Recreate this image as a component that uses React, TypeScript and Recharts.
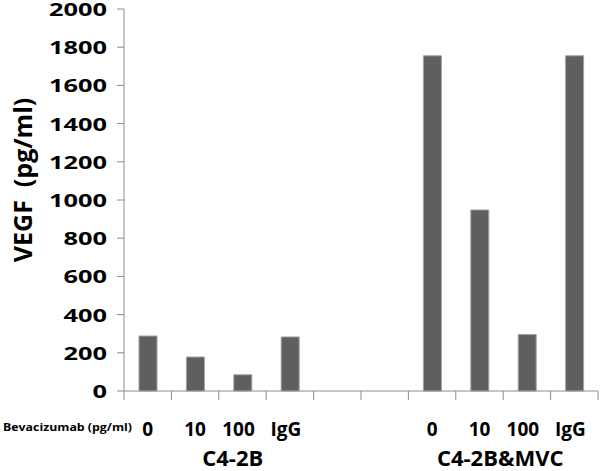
import React from 'react';
import { BarChart, Bar, XAxis, YAxis, Label } from 'recharts';

const categories = ['0', '10', '100', 'IgG', '', ' ', '0 ', '10 ', '100 ', 'IgG '];
const vegfValues = [288, 178, 85, 283, 0, 0, 1755, 948, 296, 1755];
const yTicks = [0, 200, 400, 600, 800, 1000, 1200, 1400, 1600, 1800, 2000];
const groups = [
  { name: 'C4-2B', start: 0, end: 3, shift: 14 },
  { name: 'C4-2B&MVC', start: 6, end: 9, shift: -3 },
];
const xPrefix = 'Bevacizumab (pg/ml)';

const data = categories.map((name, i) => ({ name, value: vegfValues[i] }));

const W = 600;
const H = 471;
const LEFT = 124;
const RIGHT = 2;
const STEP = (W - LEFT - RIGHT) / categories.length;
const AXIS = '#8c8c8c';
const FONT = '"Open Sans", sans-serif';

const XTick = (props: any) => {
  const { x, y, payload, index } = props;
  const label = String(payload.value).trim();
  const group = groups.find((g) => g.start === index);
  return (
    <g>
      <line x1={x - STEP / 2} x2={x - STEP / 2} y1={y} y2={y + 9} stroke={AXIS} />
      {index === categories.length - 1 && (
        <line x1={x + STEP / 2} x2={x + STEP / 2} y1={y} y2={y + 9} stroke={AXIS} />
      )}
      {label && (
        <text x={x - (label.length > 2 ? 4 : 0)} y={y + 45} textAnchor="middle" fontFamily={FONT} fontWeight="bold" fontSize={19} fill="#000">
          {label}
        </text>
      )}
      {group && (
        <text
          x={x + ((group.end - group.start) * STEP) / 2 + group.shift}
          y={y + 75}
          textAnchor="middle"
          fontFamily={FONT}
          fontWeight="bold"
          fontSize={22}
          fill="#000"
        >
          {group.name}
        </text>
      )}
      {index === 0 && (
        <text
          x={3}
          y={y + 40}
          fontFamily={FONT}
          fontWeight="bold"
          fontSize={11}
          textLength={129}
          lengthAdjust="spacingAndGlyphs"
          fill="#000"
        >
          {xPrefix}
        </text>
      )}
    </g>
  );
};

const YTick = (props: any) => {
  const { x, y, payload } = props;
  const label = String(payload.value);
  return (
    <text
      x={x}
      y={y}
      dy={7}
      textAnchor="end"
      fontFamily={FONT}
      fontWeight="bold"
      fontSize={18}
      textLength={label.length * 14.5}
      lengthAdjust="spacingAndGlyphs"
      fill="#000"
    >
      {label}
    </text>
  );
};

const YTitle = () => (
  <text
    transform="translate(32,180) rotate(-90)"
    textAnchor="middle"
    fontFamily={FONT}
    fontWeight="bold"
    fontSize={25}
    fill="#000"
    style={{ whiteSpace: 'pre' }}
  >
    {'VEGF  (pg/ml)'}
  </text>
);

export default function App() {
  return (
    <div style={{ position: 'absolute', left: 0, top: 0, width: W, height: H, background: '#fff' }}>
      <BarChart width={W} height={H} data={data} margin={{ top: 9, right: RIGHT, left: 0, bottom: 0 }} barCategoryGap={0}>
        <XAxis
          dataKey="name"
          interval={0}
          height={80}
          tickLine={false}
          tickSize={0}
          tickMargin={0}
          axisLine={{ stroke: AXIS }}
          tick={<XTick />}
        />
        <YAxis
          width={LEFT}
          domain={[0, 2000]}
          ticks={yTicks}
          interval={0}
          tickSize={7}
          tickMargin={10}
          axisLine={{ stroke: AXIS }}
          tickLine={{ stroke: AXIS }}
          tick={<YTick />}
        >
          <Label content={<YTitle />} />
        </YAxis>
        <Bar dataKey="value" fill="#5f5f5f" stroke="#a3a3a3" strokeWidth={1} barSize={18} isAnimationActive={false} />
      </BarChart>
    </div>
  );
}
